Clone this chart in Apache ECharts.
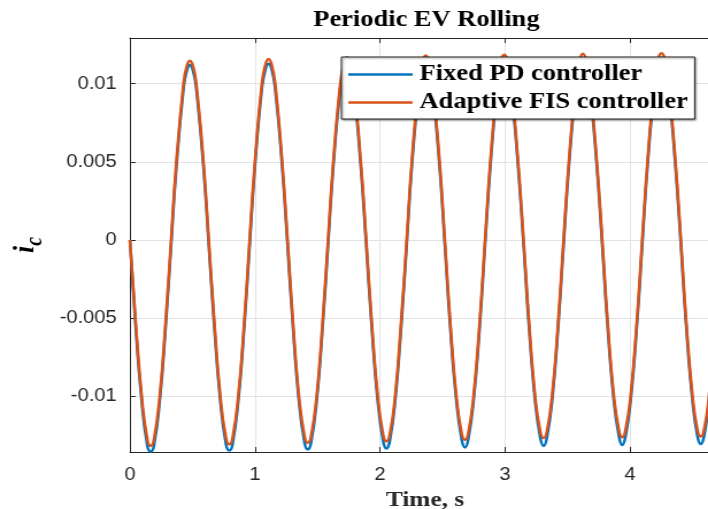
<!DOCTYPE html>
<html>
<head>
<meta charset="utf-8">
<script src="https://cdn.jsdelivr.net/npm/echarts@6/dist/echarts.min.js"></script>
<style>
  html, body { margin: 0; padding: 0; background: #fff; overflow: hidden; }
  /* the reference figure is stretched sideways, so the chart is drawn narrow and widened */
  #chart { width: 616px; height: 509px; transform: scaleX(1.1494); transform-origin: 0 0; }
</style>
</head>
<body>
<div id="chart"></div>
<script>
// time, s (zero crossings, +-0.005 / +-0.01 crossings, extrema)
var time = [
  0, 0.044, 0.094, 0.140, 0.166, 0.192, 0.239, 0.288,
  0.330, 0.372, 0.429, 0.454, 0.480, 0.506, 0.531, 0.588,
  0.631, 0.673, 0.723, 0.769, 0.795, 0.821, 0.867, 0.917,
  0.958, 1.000, 1.056, 1.083, 1.109, 1.135, 1.162, 1.218,
  1.261, 1.302, 1.352, 1.397, 1.423, 1.449, 1.494, 1.544,
  1.585, 1.627, 1.683, 1.711, 1.737, 1.763, 1.791, 1.847,
  1.890, 1.932, 1.982, 2.026, 2.052, 2.078, 2.122, 2.172,
  2.214, 2.255, 2.311, 2.340, 2.366, 2.392, 2.421, 2.477,
  2.519, 2.560, 2.611, 2.654, 2.680, 2.706, 2.749, 2.800,
  2.841, 2.883, 2.938, 2.968, 2.994, 3.020, 3.050, 3.105,
  3.149, 3.190, 3.241, 3.283, 3.309, 3.335, 3.377, 3.428,
  3.469, 3.511, 3.567, 3.597, 3.623, 3.649, 3.679, 3.735,
  3.778, 3.819, 3.871, 3.912, 3.938, 3.964, 4.005, 4.057,
  4.098, 4.140, 4.195, 4.226, 4.252, 4.278, 4.309, 4.364,
  4.407, 4.448, 4.500, 4.540, 4.566, 4.592, 4.632, 4.684, 4.725
];
// Adaptive FIS controller (orange)
var fisValues = [
  0, -0.005, -0.010, -0.0128, -0.0132, -0.0128, -0.010, -0.005,
  0, 0.005, 0.010, 0.0111, 0.01147, 0.0111, 0.010, 0.005,
  0, -0.005, -0.010, -0.0127, -0.0131, -0.0127, -0.010, -0.005,
  0, 0.005, 0.010, 0.0112, 0.01158, 0.0112, 0.010, 0.005,
  0, -0.005, -0.010, -0.0126, -0.0130, -0.0126, -0.010, -0.005,
  0, 0.005, 0.010, 0.0113, 0.0117, 0.0113, 0.010, 0.005,
  0, -0.005, -0.010, -0.0125, -0.0129, -0.0125, -0.010, -0.005,
  0, 0.005, 0.010, 0.0114, 0.01181, 0.0114, 0.010, 0.005,
  0, -0.005, -0.010, -0.0124, -0.0128, -0.0124, -0.010, -0.005,
  0, 0.005, 0.010, 0.0115, 0.01186, 0.0115, 0.010, 0.005,
  0, -0.005, -0.010, -0.0123, -0.0127, -0.0123, -0.010, -0.005,
  0, 0.005, 0.010, 0.0115, 0.01192, 0.0115, 0.010, 0.005,
  0, -0.005, -0.010, -0.0122, -0.01265, -0.0122, -0.010, -0.005,
  0, 0.005, 0.010, 0.0116, 0.01196, 0.0116, 0.010, 0.005,
  0, -0.005, -0.010, -0.0122, -0.0126, -0.0122, -0.010, -0.005, 0
];
// Fixed PD controller (blue)
var pdValues = [
  0, -0.0053, -0.0103, -0.0132, -0.01356, -0.0132, -0.0103, -0.0053,
  -0.0003, 0.0047, 0.0097, 0.0108, 0.01120, 0.0108, 0.0097, 0.0047,
  -0.0003, -0.0053, -0.0103, -0.0131, -0.0135, -0.0131, -0.0103, -0.0053,
  -0.0003, 0.0047, 0.0097, 0.0109, 0.01128, 0.0109, 0.0097, 0.0047,
  -0.0003, -0.0053, -0.0103, -0.0130, -0.01342, -0.0130, -0.0103, -0.0053,
  -0.0003, 0.0047, 0.0097, 0.0110, 0.0114, 0.0110, 0.0097, 0.0047,
  -0.0003, -0.0053, -0.0103, -0.0129, -0.01336, -0.0129, -0.0103, -0.0053,
  -0.0003, 0.0047, 0.0097, 0.0111, 0.0115, 0.0111, 0.0097, 0.0047,
  -0.0003, -0.0053, -0.0103, -0.0128, -0.0133, -0.0128, -0.0103, -0.0053,
  -0.0003, 0.0047, 0.0097, 0.0112, 0.01156, 0.0112, 0.0097, 0.0047,
  -0.0003, -0.0053, -0.0103, -0.0127, -0.0132, -0.0127, -0.0103, -0.0053,
  -0.0003, 0.0047, 0.0097, 0.0112, 0.01162, 0.0112, 0.0097, 0.0047,
  -0.0003, -0.0053, -0.0103, -0.0126, -0.01314, -0.0126, -0.0103, -0.0053,
  -0.0003, 0.0047, 0.0097, 0.0113, 0.01166, 0.0113, 0.0097, 0.0047,
  -0.0003, -0.0053, -0.0103, -0.0126, -0.01308, -0.0126, -0.0103, -0.0053, -0.0003
];
var xTicks = [0, 1, 2, 3, 4];
var yTicks = [-0.01, -0.005, 0, 0.005, 0.01];
var seriesNames = ['Fixed PD controller', 'Adaptive FIS controller'];

function pairs (vals) {
  return time.map(function (t, i) { return [t, vals[i]] })
}

var axisColor = '#262626';
var gridColor = '#e3e3e3';

var myChart = echarts.init(document.getElementById('chart'));
var option = {
  animation: false,
  title: {
    text: 'Periodic EV Rolling',
    left: 371,
    top: 9,
    padding: 0,
    textAlign: 'center',
    textStyle: { fontFamily: 'Liberation Serif', fontWeight: 'bold', fontSize: 23, color: '#000' }
  },
  legend: {
    data: seriesNames,
    orient: 'vertical',
    left: 297,
    top: 57,
    padding: [6, 6, 5, 6],
    itemGap: 5,
    icon: 'rect',
    itemWidth: 56,
    itemHeight: 2.5,
    backgroundColor: '#fff',
    borderColor: axisColor,
    borderWidth: 1,
    shadowColor: 'rgba(0,0,0,0.45)',
    shadowBlur: 2,
    shadowOffsetX: 1,
    shadowOffsetY: 1,
    textStyle: { fontFamily: 'Liberation Serif', fontWeight: 'bold', fontSize: 23, color: '#000', padding: [0, 0, 0, 1] }
  },
  grid: { left: 113, right: -10.4, top: 38, bottom: 57, outerBoundsMode: 'none' },
  xAxis: [{
    type: 'value',
    min: 0,
    max: 4.72,
    name: 'Time, s',
    nameLocation: 'middle',
    nameGap: 35,
    nameTextStyle: { fontFamily: 'Liberation Serif', fontWeight: 'bold', fontSize: 22, color: axisColor },
    axisLine: { onZero: false, lineStyle: { color: axisColor, width: 1 } },
    axisTick: { inside: true, length: 5, customValues: xTicks, lineStyle: { color: axisColor } },
    axisLabel: { customValues: xTicks, margin: 14, fontFamily: 'Liberation Sans', fontSize: 17.5, color: axisColor },
    splitLine: { show: true, lineStyle: { color: gridColor, width: 1 } }
  }, {
    type: 'value',
    position: 'top',
    min: 0,
    max: 4.72,
    axisLine: { onZero: false, lineStyle: { color: axisColor, width: 1 } },
    axisTick: { inside: true, length: 5, customValues: xTicks, lineStyle: { color: axisColor } },
    axisLabel: { show: false },
    splitLine: { show: false }
  }],
  yAxis: [{
    type: 'value',
    min: -0.01359,
    max: 0.01293,
    name: '{i|i}{c|c}',
    nameLocation: 'middle',
    nameRotate: 90,
    nameGap: 71,
    nameTextStyle: {
      rich: {
        i: { fontFamily: 'Liberation Serif', fontStyle: 'italic', fontWeight: 'bold', fontSize: 26, lineHeight: 26, verticalAlign: 'top', color: '#000' },
        c: { fontFamily: 'Liberation Serif', fontStyle: 'italic', fontWeight: 'bold', fontSize: 20, lineHeight: 20, padding: [18, 0, 0, 0], color: '#000' }
      }
    },
    axisLine: { show: true, onZero: false, lineStyle: { color: axisColor, width: 1 } },
    axisTick: { inside: true, length: 5, customValues: yTicks, lineStyle: { color: axisColor } },
    axisLabel: { customValues: yTicks, margin: 11.5, fontFamily: 'Liberation Sans', fontSize: 17.5, color: axisColor },
    splitLine: { show: true, lineStyle: { color: gridColor, width: 1 } }
  }],
  series: [{
    name: seriesNames[0],
    type: 'line',
    smooth: 0.5,
    symbol: 'none',
    lineStyle: { color: '#0072BD', width: 2.5 },
    itemStyle: { color: '#0072BD' },
    data: pairs(pdValues)
  }, {
    name: seriesNames[1],
    type: 'line',
    smooth: 0.5,
    symbol: 'none',
    lineStyle: { color: '#D95319', width: 2.5 },
    itemStyle: { color: '#D95319' },
    data: pairs(fisValues)
  }]
};
myChart.setOption(option);
</script>
</body>
</html>
